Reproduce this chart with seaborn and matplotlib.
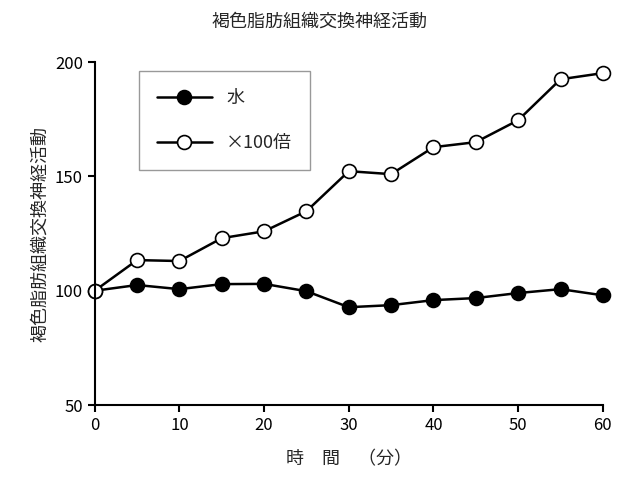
import matplotlib
matplotlib.use("Agg")
import matplotlib.pyplot as plt
import seaborn as sns
import pandas as pd

minutes = [0, 5, 10, 15, 20, 25, 30, 35, 40, 45, 50, 55, 60]
water = [100, 102.5, 100.7, 102.9, 103, 99.8, 92.8, 93.7, 95.9, 96.8, 99, 100.7, 98]
x100 = [100, 113.4, 113, 123, 126, 134.8, 152.3, 151, 162.8, 165, 174.6, 192.5, 195.2]
labels = ["水", "×100倍"]
title = "褐色脂肪組織交換神経活動"
xlabel = "時　間　（分）"
ylabel = "褐色脂肪組織交換神経活動"

sns.set_style("ticks")
plt.rcParams["font.family"] = ["Noto Sans CJK JP", "DejaVu Sans"]
fig = plt.figure(figsize=(6.4, 4.97), dpi=100)
ax = fig.add_axes([0.148, 0.185, 0.794, 0.69])

df = pd.DataFrame({"t": minutes * 2, "v": water + x100,
                   "s": [labels[0]] * len(minutes) + [labels[1]] * len(minutes)})
for lab, fc in zip(labels, ["black", "white"]):
    d = df[df.s == lab]
    sns.lineplot(data=d, x="t", y="v", ax=ax, color="black", lw=1.8, marker="o",
                 markersize=10, markerfacecolor=fc, markeredgecolor="black",
                 markeredgewidth=1.2, label=lab, clip_on=False)

ax.set_xlim(0, 60)
ax.set_ylim(50, 200)
ax.set_xticks(range(0, 61, 10))
ax.set_yticks([50, 100, 150, 200])
ax.tick_params(labelsize=12, direction="out", width=1.5, length=5, colors="black")
for s in ["top", "right"]:
    ax.spines[s].set_visible(False)
for s in ["left", "bottom"]:
    ax.spines[s].set_linewidth(1.5)
    ax.spines[s].set_color("black")
ax.set_xlabel(xlabel, fontsize=13, labelpad=12)
ax.set_ylabel(ylabel, fontsize=13)
fig.suptitle(title, fontsize=13, y=0.975)
leg = ax.legend(loc="upper left", bbox_to_anchor=(0.07, 1.0), fontsize=13,
                frameon=True, fancybox=False, edgecolor="gray",
                handlelength=3, labelspacing=1.5, borderpad=1.0)
fig.savefig("out.png", dpi=100)
